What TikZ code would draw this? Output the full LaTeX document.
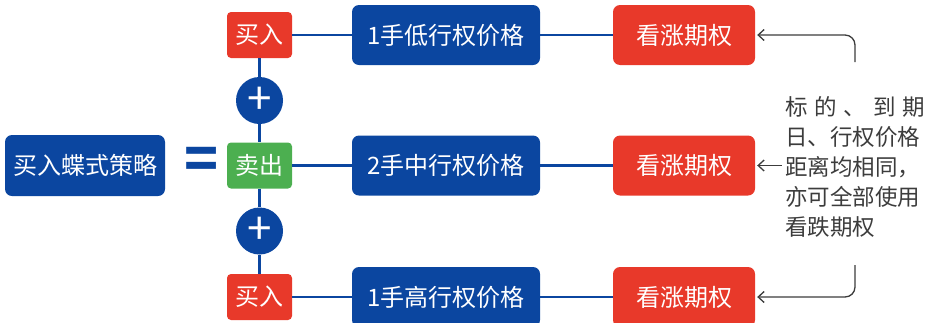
\documentclass[tikz,border=0pt]{standalone}
\usepackage{fontspec}
\setmainfont{Noto Sans CJK SC}
\usetikzlibrary{arrows.meta}
\definecolor{optblue}{HTML}{0B46A0}
\definecolor{optred}{HTML}{E8392A}
\definecolor{optgreen}{HTML}{4CAF50}
\definecolor{notegray}{HTML}{3C3C3C}

\begin{document}
\begin{tikzpicture}[x=1pt,y=-1pt,
	box/.style={rounded corners=7pt, text=white, inner sep=0pt, minimum height=60pt, font=\fontsize{24}{28}\selectfont},
	bluebox/.style={box, fill=optblue},
	callbox/.style={box, fill=optred, minimum width=142pt},
	legbox/.style={box, rounded corners=4pt, minimum width=65pt, minimum height=46pt},
	plus/.style={circle, fill=optblue, text=white, minimum size=47pt, inner sep=0pt, font=\fontsize{44}{44}\selectfont},
	link/.style={optblue, line width=2.5pt},
	note/.style={text=notegray, text width=140pt, align=left, inner sep=0pt, font=\fontsize{22.5}{30}\selectfont},
	notearrow/.style={notegray, line width=1.3pt, rounded corners=10pt, -{Straight Barb[length=6pt,width=11pt]}, shorten >=2pt}
	]
	\useasboundingbox (0,0) rectangle (928,322);

	\node[bluebox, minimum width=160pt, minimum height=61pt] (strategy) at (85,165.5) {买入蝶式策略};
	\node[text=optblue, inner sep=0pt, font=\fontsize{56}{56}\selectfont\bfseries] (equals) at (202,163) {=};

	\node[legbox, fill=optred] (buylow) at (259.5,35) {买入};
	\node[legbox, fill=optgreen] (sellmid) at (259.5,165.5) {卖出};
	\node[legbox, fill=optred] (buyhigh) at (259.5,297) {买入};
	\node[plus] (plusa) at (259.5,100.5) {+};
	\node[plus] (plusb) at (259.5,231) {+};

	\node[bluebox, minimum width=188pt] (strikelow) at (446,35) {1手低行权价格};
	\node[bluebox, minimum width=188pt] (strikemid) at (446,165.5) {2手中行权价格};
	\node[bluebox, minimum width=188pt] (strikehigh) at (446,297) {1手高行权价格};

	\node[callbox] (calllow) at (684,35) {看涨期权};
	\node[callbox] (callmid) at (684,165.5) {看涨期权};
	\node[callbox] (callhigh) at (684,297) {看涨期权};

	\draw[link] (buylow) -- (plusa) -- (sellmid) -- (plusb) -- (buyhigh);
	\draw[link] (buylow) -- (strikelow) -- (calllow);
	\draw[link] (sellmid) -- (strikemid) -- (callmid);
	\draw[link] (buyhigh) -- (strikehigh) -- (callhigh);

	\node[note] (note) at (855,167) {标\hfill 的\hfill 、\hfill 到\hfill 期\\日、行权价格\\距离均相同，\\亦可全部使用\\看跌期权};
	\coordinate (notetop) at (855,62);
	\coordinate (notebottom) at (855,265);

	\draw[notearrow] (notetop) |- (calllow);
	\draw[notearrow] ([xshift=-3pt]note.west |- callmid) -- (callmid);
	\draw[notearrow] (notebottom) |- (callhigh);
\end{tikzpicture}
\end{document}
